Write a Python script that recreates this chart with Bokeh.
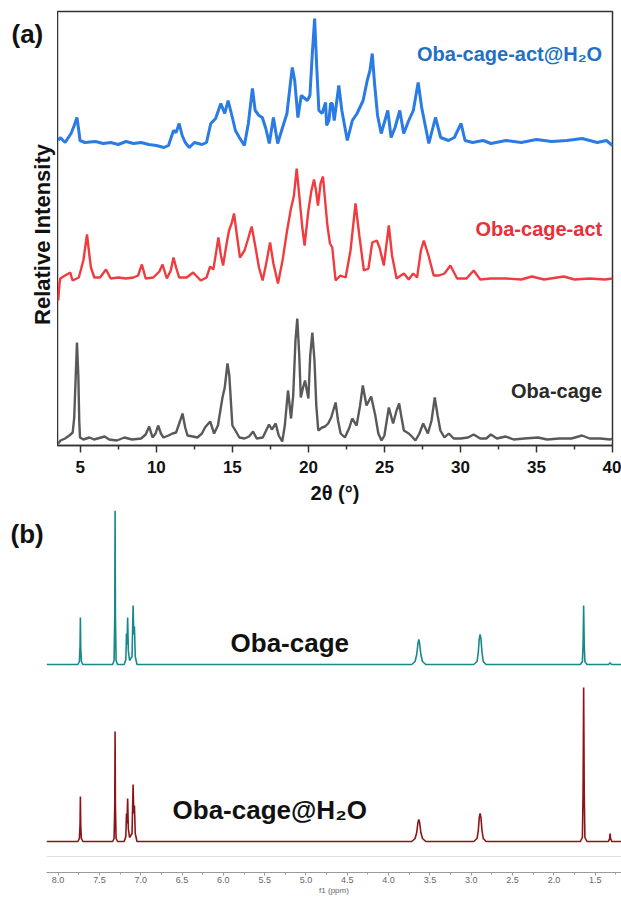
import math
from bokeh.plotting import figure
from bokeh.models import Range1d, Label, Span, FixedTicker, NumeralTickFormatter
from bokeh.layouts import column, row
from bokeh.core.properties import value
from bokeh.embed import file_html
from bokeh.resources import INLINE

# ---------------- (a) PXRD data (2theta in degrees, relative intensity, stacked) ----------------
grey_tt = [3.55, 3.7, 4.0, 4.28, 4.5, 4.6, 4.7, 4.78, 4.87, 4.93, 4.98, 5.2, 5.6, 5.9, 6.6, 6.9, 7.4, 7.9, 8.4, 9.0,
           9.3, 9.53, 9.75, 9.95, 10.12, 10.3, 10.47, 10.8, 11.06, 11.3, 11.55, 11.72, 11.9, 12.05, 12.4, 12.7,
           13.0, 13.2, 13.54, 13.8, 14.05, 14.35, 14.5, 14.68, 14.8, 15.0, 15.2, 15.46, 15.8, 16.1, 16.36, 16.6,
           17.0, 17.41, 17.6, 17.85, 18.05, 18.28, 18.45, 18.66, 18.86, 19.0, 19.15, 19.27, 19.4, 19.5, 19.65,
           19.78, 19.9, 20.0, 20.12, 20.26, 20.4, 20.52, 20.65, 20.9, 21.1, 21.3, 21.5, 21.79, 21.95, 22.12, 22.4,
           22.7, 22.88, 23.17, 23.4, 23.58, 23.7, 23.82, 24.13, 24.4, 24.6, 24.81, 25.0, 25.29, 25.57, 25.8, 25.97,
           26.1, 26.28, 26.6, 26.8, 27.04, 27.3, 27.55, 27.86, 28.1, 28.31, 28.5, 28.68, 28.95, 29.23, 29.56, 30.0,
           30.5, 30.87, 31.3, 31.7, 32.0, 32.4, 32.97, 33.5, 34.2, 35.1, 35.7, 36.5, 37.3, 38.0, 38.5, 39.2, 39.85, 40.0]
grey_int = [2, 5, 7, 10, 13, 28, 70, 103, 70, 25, 8, 6, 8, 6, 9, 6, 5, 8, 6, 7,
            11, 19, 8, 12, 20, 12, 8, 10, 12, 13, 24, 32, 18, 10, 9, 8,
            12, 18, 24, 12, 20, 48, 58, 82, 70, 20, 15, 8, 7, 9, 14, 7,
            8, 21, 16, 22, 10, 4, 20, 55, 27, 50, 105, 127, 90, 48, 58,
            65, 55, 47, 90, 113, 85, 40, 15, 18, 19, 22, 28, 43, 25, 12, 8,
            18, 27, 20, 40, 60, 50, 40, 49, 30, 12, 5, 10, 38, 22, 35, 42,
            30, 15, 12, 9, 5, 12, 22, 12, 25, 48, 30, 15, 8, 12, 7, 7,
            8, 11, 7, 7, 11, 7, 9, 6, 7, 8, 6, 7, 7, 10, 7, 7, 6, 7]

red_tt = [3.55, 3.62, 3.68, 4.0, 4.34, 4.49, 4.9, 5.2, 5.44, 5.6, 5.7, 5.92, 6.3, 6.69, 7.0, 7.5, 8.0, 8.5, 8.8, 9.05,
          9.3, 9.8, 10.2, 10.41, 10.69, 10.95, 11.13, 11.3, 11.5, 12.0, 12.42, 12.92, 13.3, 13.54, 13.75, 13.95,
          14.08, 14.25, 14.39, 14.6, 14.78, 14.95, 15.11, 15.3, 15.5, 15.8, 16.0, 16.27, 16.5, 16.75, 16.99, 17.2,
          17.48, 17.7, 18.0, 18.3, 18.6, 18.83, 19.05, 19.23, 19.4, 19.6, 19.75, 20.0, 20.2, 20.37, 20.5, 20.63,
          20.8, 20.96, 21.1, 21.25, 21.42, 21.57, 21.79, 22.1, 22.45, 22.77, 23.1, 23.35, 23.65, 23.95, 24.2, 24.5,
          24.68, 24.96, 25.29, 25.5, 25.8, 26.28, 26.6, 26.89, 27.15, 27.4, 27.59, 27.9, 28.24, 28.6, 28.95, 29.34,
          29.78, 30.4, 30.87, 31.3, 32.0, 33.0, 34.0, 34.7, 35.5, 36.8, 37.5, 38.5, 39.5, 40.0]
red_int = [145, 160, 167, 170, 173, 165, 168, 185, 211, 190, 178, 168, 168, 176, 167, 168, 167, 168, 170, 181,
           167, 168, 174, 181, 167, 175, 188, 178, 168, 168, 173, 165, 168, 179, 176, 195,
           208, 190, 180, 200, 215, 222, 232, 210, 188, 195, 205, 219, 200, 178, 165, 180,
           203, 182, 162, 185, 215, 235, 250, 277, 250, 218, 200, 235, 255, 266, 255, 240,
           262, 269, 245, 220, 202, 198, 165, 170, 168, 195, 242, 210, 175, 177, 203, 205,
           198, 180, 220, 190, 167, 172, 166, 172, 168, 195, 205, 190, 170, 170, 172, 180,
           167, 167, 175, 166, 167, 167, 166, 169, 166, 169, 166, 167, 166, 167]

blue_tt = [3.55, 3.68, 4.0, 4.39, 4.6, 4.78, 4.9, 4.98, 5.3, 6.0, 6.5, 7.0, 7.5, 8.0, 8.5, 9.0, 9.5, 10.0, 10.5, 10.8,
           11.13, 11.3, 11.5, 11.7, 11.9, 12.17, 12.5, 13.0, 13.3, 13.58, 13.9, 14.24, 14.5, 14.72, 15.0, 15.2,
           15.46, 15.79, 16.05, 16.32, 16.5, 16.75, 16.97, 17.2, 17.43, 17.7, 17.98, 18.3, 18.59, 18.8, 18.94,
           19.1, 19.31, 19.53, 19.93, 20.1, 20.25, 20.41, 20.55, 20.69, 20.9, 21.13, 21.2, 21.35, 21.46, 21.57,
           21.7, 22.0, 22.2, 22.56, 22.89, 23.2, 23.6, 23.87, 24.05, 24.2, 24.35, 24.55, 24.79, 25.22, 25.44,
           25.7, 26.01, 26.27, 26.6, 26.9, 27.22, 27.45, 27.92, 28.36, 28.7, 29.21, 29.6, 30.04, 30.3, 30.8,
           31.5, 32.0, 33.0, 34.0, 35.0, 36.0, 37.0, 38.0, 39.0, 39.6, 40.0]
blue_int = [305, 308, 303, 312, 320, 328, 315, 305, 303, 304, 302, 303, 301, 304, 302, 303, 301, 300, 298, 300,
            315, 313, 322, 310, 303, 298, 303, 301, 303, 322, 327, 342, 332, 345, 328, 315,
            308, 300, 322, 357, 335, 330, 328, 317, 302, 328, 302, 318, 332, 360, 378,
            365, 328, 350, 345, 350, 390, 427, 378, 335, 332, 343, 320, 325, 342, 342,
            325, 360, 335, 305, 325, 332, 345, 365, 375, 392, 362, 330, 312, 335, 308,
            318, 335, 312, 325, 335, 363, 338, 302, 328, 308, 305, 308, 322, 305, 303,
            305, 302, 305, 303, 306, 304, 305, 307, 303, 305, 300]

xrd_ticks = [5, 10, 15, 20, 25, 30, 35, 40]
xrd_minor = [7.5, 12.5, 17.5, 22.5, 27.5, 32.5, 37.5]
xrd_names = ["Oba-cage-act@H\u2082O", "Oba-cage-act", "Oba-cage"]

# ---------------- (b) 1H NMR data (ppm, intensity above own baseline) ----------------
nmr_ppm = [8.14,
           7.760, 7.742, 7.734, 7.730, 7.726, 7.718, 7.700,
           7.340, 7.322, 7.314, 7.310, 7.306, 7.298, 7.280,
           7.200, 7.180, 7.172, 7.166, 7.158, 7.150, 7.135,
           7.105, 7.092, 7.084, 7.076, 7.066, 7.045,
           3.720, 3.680, 3.660, 3.645, 3.635, 3.625, 3.610, 3.590, 3.550,
           2.970, 2.930, 2.915, 2.903, 2.893, 2.883, 2.870, 2.855, 2.820,
           1.680, 1.655, 1.647, 1.640, 1.633, 1.625, 1.600,
           1.340, 1.326, 1.320, 1.314, 1.300, 1.180]
teal_int = [0,
            0, 3, 18, 47, 18, 3, 0,
            0, 4, 50, 154, 50, 4, 0,
            0, 5, 31, 20, 47, 14, 4,
            8, 59, 30, 38, 8, 0,
            0, 3, 10, 21, 25, 21, 10, 3, 0,
            0, 3, 12, 26, 30, 26, 12, 3, 0,
            0, 3, 20, 59, 20, 3, 0,
            0, 1, 2, 1, 0, 0]
dred_int = [0,
            0, 3, 17, 45, 17, 3, 0,
            0, 3, 36, 110, 36, 3, 0,
            0, 5, 28, 18, 43, 13, 4,
            8, 57, 28, 36, 8, 0,
            0, 3, 9, 19, 22, 19, 9, 3, 0,
            0, 3, 11, 24, 28, 24, 11, 3, 0,
            0, 4, 50, 154, 50, 4, 0,
            0, 3, 8, 3, 0, 0]
nmr_ticks = [8.0, 7.5, 7.0, 6.5, 6.0, 5.5, 5.0, 4.5, 4.0, 3.5, 3.0, 2.5, 2.0, 1.5]
nmr_minor = [7.75, 7.25, 6.75, 6.25, 5.75, 5.25, 4.75, 4.25, 3.75, 3.25, 2.75, 2.25, 1.75, 1.25]
nmr_names = ["Oba-cage", "Oba-cage@H\u2082O"]

SANS = "Liberation Sans"


def strip(width, height):
    s = figure(width=width, height=height, output_backend="svg", toolbar_location=None,
               x_range=Range1d(0, width), y_range=Range1d(0, height),
               min_border_left=0, min_border_right=0, min_border_top=0, min_border_bottom=0)
    s.axis.visible = False
    s.grid.visible = False
    s.outline_line_color = None
    s.background_fill_color = "white"
    s.border_fill_color = "white"
    return s


# ---------------- panel (a) ----------------
sa = strip(57, 510)
sa.text(x=[11], y=[484], text=["(a)"], text_align="left", text_baseline="middle",
        text_font=value(SANS), text_font_style="bold", text_font_size="26px", text_color="#111111")
sa.text(x=[42], y=[248], text=["Relative Intensity"], angle=math.pi / 2, text_align="center",
        text_baseline="middle", text_font=value(SANS), text_font_style="bold",
        text_font_size="22px", text_color="#111111")

pa = figure(width=564, height=510, output_backend="svg", toolbar_location=None,
            x_range=Range1d(3.5, 40), y_range=Range1d(0, 434),
            min_border_left=0, min_border_right=9, min_border_top=11, min_border_bottom=65)
pa.grid.visible = False
pa.yaxis.visible = False
pa.outline_line_color = "#333333"
pa.outline_line_width = 1.5
pa.background_fill_color = "white"
pa.border_fill_color = "white"

ax = pa.xaxis[0]
ax.ticker = FixedTicker(ticks=xrd_ticks, minor_ticks=xrd_minor)
ax.axis_line_color = "#333333"
ax.axis_line_width = 1.5
ax.major_tick_line_color = "#333333"
ax.major_tick_line_width = 1.5
ax.minor_tick_line_color = "#333333"
ax.minor_tick_line_width = 1.5
ax.major_tick_out = 7
ax.major_tick_in = 0
ax.minor_tick_out = 4
ax.minor_tick_in = 0
ax.major_label_text_font = SANS
ax.major_label_text_font_style = "bold"
ax.major_label_text_font_size = "17px"
ax.major_label_text_color = "#111111"
ax.major_label_standoff = 8
ax.axis_label = "2\u03b8 (\u00b0)"
ax.axis_label_text_font = SANS
ax.axis_label_text_font_style = "bold"
ax.axis_label_text_font_size = "20px"
ax.axis_label_text_color = "#111111"
ax.axis_label_standoff = 6

pa.line(blue_tt, blue_int, line_color="#2a7be3", line_width=3.0)
pa.line(red_tt, red_int, line_color="#f03c3f", line_width=2.4)
pa.line(grey_tt, grey_int, line_color="#595959", line_width=2.4)

for name, yy, col in [(xrd_names[0], 392, "#1f70c4"), (xrd_names[1], 217, "#e8303a"), (xrd_names[2], 55, "#2a2a2a")]:
    pa.add_layout(Label(x=39.32, y=yy, text=name, text_align="right", text_baseline="alphabetic",
                        text_font=SANS, text_font_style="bold", text_font_size="20px", text_color=col))

# ---------------- panel (b) ----------------
sb = strip(46, 387)
sb.text(x=[10], y=[362], text=["(b)"], text_align="left", text_baseline="middle",
        text_font=value(SANS), text_font_style="bold", text_font_size="26px", text_color="#111111")

pb = figure(width=575, height=387, output_backend="svg", toolbar_location=None,
            x_range=Range1d(8.14, 1.182), y_range=Range1d(0, 362),
            min_border_left=0, min_border_right=0, min_border_top=0, min_border_bottom=25)
pb.grid.visible = False
pb.yaxis.visible = False
pb.outline_line_color = None
pb.background_fill_color = "white"
pb.border_fill_color = "white"

bx = pb.xaxis[0]
bx.ticker = FixedTicker(ticks=nmr_ticks, minor_ticks=nmr_minor)
bx.formatter = NumeralTickFormatter(format="0.0")
bx.axis_line_color = "#9a9a9a"
bx.axis_line_width = 1
bx.major_tick_line_color = "#9a9a9a"
bx.minor_tick_line_color = "#9a9a9a"
bx.major_tick_out = 3
bx.major_tick_in = 0
bx.minor_tick_out = 2
bx.minor_tick_in = 0
bx.major_label_text_font = SANS
bx.major_label_text_font_size = "9px"
bx.major_label_text_color = "#666666"
bx.major_label_standoff = 1
bx.axis_label = "f1 (ppm)"
bx.axis_label_text_font = SANS
bx.axis_label_text_font_style = "normal"
bx.axis_label_text_font_size = "8px"
bx.axis_label_text_color = "#666666"
bx.axis_label_standoff = 0

TEAL_BASE = 208
RED_BASE = 31
pb.add_layout(Span(location=16, dimension="width", line_color="#dddddd", line_width=1))
pb.line(nmr_ppm, [v + TEAL_BASE for v in teal_int], line_color="#17898a", line_width=1.6)
pb.line(nmr_ppm, [v + RED_BASE for v in dred_int], line_color="#8c1418", line_width=1.6)

pb.add_layout(Label(x=5.913, y=230, text=nmr_names[0], text_align="left", text_baseline="alphabetic",
                    text_font=SANS, text_font_style="bold", text_font_size="26px", text_color="#111111"))
pb.add_layout(Label(x=6.615, y=63, text=nmr_names[1], text_align="left", text_baseline="alphabetic",
                    text_font=SANS, text_font_style="bold", text_font_size="26px", text_color="#111111"))

layout = column(row(sa, pa, spacing=0), row(sb, pb, spacing=0), spacing=0)
open("out.html", "w").write(file_html(layout, INLINE))
